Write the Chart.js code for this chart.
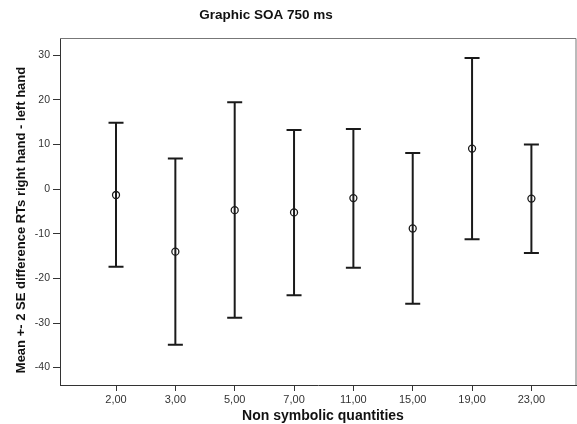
<!DOCTYPE html>
<html>
<head>
<meta charset="utf-8">
<script src="https://cdn.jsdelivr.net/npm/chart.js@4.4.1/dist/chart.umd.min.js"></script>
<style>
  html, body { margin: 0; padding: 0; background: #fff; overflow: hidden; }
  #wrap { width: 586px; height: 424px; position: relative; }
</style>
</head>
<body>
<div id="wrap"><canvas id="c"></canvas></div>
<script>
const chartTitle = 'Graphic SOA 750 ms';
const xTitle = 'Non symbolic quantities';
const yTitle = 'Mean +- 2 SE difference RTs right hand - left hand';
const categories = ['2,00', '3,00', '5,00', '7,00', '11,00', '15,00', '19,00', '23,00'];
const means = [-1.3, -14.0, -4.7, -5.2, -2.0, -8.8, 9.1, -2.1];
const upper = [14.9, 6.9, 19.5, 13.3, 13.5, 8.1, 29.4, 10.0];
const lower = [-17.4, -34.9, -28.8, -23.8, -17.6, -25.7, -11.2, -14.3];
const yTicks = [-40, -30, -20, -10, 0, 10, 20, 30];

const FONT = "'Liberation Sans', Arial, sans-serif";
const INK = '#1a1a1a';

const whiskerData = [];
categories.forEach((c, i) => {
  whiskerData.push({x: i, y: lower[i]});
  whiskerData.push({x: i, y: upper[i]});
  whiskerData.push({x: i, y: null});
});
const capData = [];
categories.forEach((c, i) => {
  capData.push({x: i, y: lower[i]});
  capData.push({x: i, y: upper[i]});
});
const meanData = categories.map((c, i) => ({x: i, y: means[i]}));

const framePlugin = {
  id: 'frame',
  beforeDatasetsDraw(chart) {
    const {ctx, chartArea: a} = chart;
    ctx.save();
    ctx.strokeStyle = '#777';
    ctx.lineWidth = 1;
    ctx.beginPath();
    ctx.moveTo(a.left, a.top + 0.5);
    ctx.lineTo(a.right - 0.5, a.top + 0.5);
    ctx.lineTo(a.right - 0.5, a.bottom);
    ctx.stroke();
    ctx.restore();
  },
  afterDraw(chart) {
    const {ctx} = chart;
    ctx.save();
    ctx.fillStyle = '#111';
    ctx.textAlign = 'center';
    ctx.textBaseline = 'middle';
    ctx.font = 'bold 13.5px ' + FONT;
    ctx.fillText(chartTitle, 266, 15);
    ctx.font = 'bold 14px ' + FONT;
    ctx.fillText(xTitle, 323, 416.5);
    ctx.translate(21, 220);
    ctx.rotate(-Math.PI / 2);
    ctx.font = 'bold 13px ' + FONT;
    ctx.fillText(yTitle, 0, 0);
    ctx.restore();
  }
};

new Chart(document.getElementById('c'), {
  type: 'scatter',
  data: {
    datasets: [
      {
        data: whiskerData,
        showLine: true,
        spanGaps: false,
        borderColor: INK,
        borderWidth: 2,
        pointRadius: 0,
        order: 3
      },
      {
        data: capData,
        showLine: false,
        pointStyle: 'line',
        pointRadius: 7.5,
        borderWidth: 2,
        pointBorderColor: INK,
        order: 2
      },
      {
        data: meanData,
        showLine: false,
        pointStyle: 'circle',
        pointRadius: 3.5,
        pointBorderWidth: 1.3,
        pointBorderColor: INK,
        pointBackgroundColor: 'rgba(0,0,0,0)',
        order: 1
      }
    ]
  },
  options: {
    responsive: true,
    maintainAspectRatio: false,
    animation: false,
    events: [],
    layout: { padding: { top: 38, right: 1, left: 0, bottom: 0 } },
    plugins: {
      legend: { display: false },
      tooltip: { enabled: false },
      title: { display: false }
    },
    scales: {
      x: {
        type: 'linear',
        min: -0.944,
        max: 7.76,
        afterBuildTicks(scale) { scale.ticks = categories.map((c, i) => ({value: i})); },
        afterFit(scale) { scale.height = 39; scale.paddingLeft = 0; scale.paddingRight = 0; },
        grid: { drawOnChartArea: false, drawTicks: true, tickLength: 6, color: '#333' },
        border: { display: true, color: '#333', width: 1 },
        ticks: {
          autoSkip: false,
          maxRotation: 0,
          padding: 2,
          color: '#333',
          font: { family: FONT, size: 11 },
          callback: (v) => categories[v]
        },
        title: { display: false }
      },
      y: {
        min: -43.9,
        max: 33.9,
        afterBuildTicks(scale) { scale.ticks = yTicks.map(v => ({value: v})); },
        afterFit(scale) { scale.width = 60; scale.paddingTop = 0; scale.paddingBottom = 0; },
        grid: { drawOnChartArea: false, drawTicks: true, tickLength: 7, color: '#333' },
        border: { display: true, color: '#333', width: 1 },
        ticks: {
          padding: 3,
          color: '#333',
          font: { family: FONT, size: 10.5 }
        },
        title: { display: false }
      }
    }
  },
  plugins: [framePlugin]
});
</script>
</body>
</html>
